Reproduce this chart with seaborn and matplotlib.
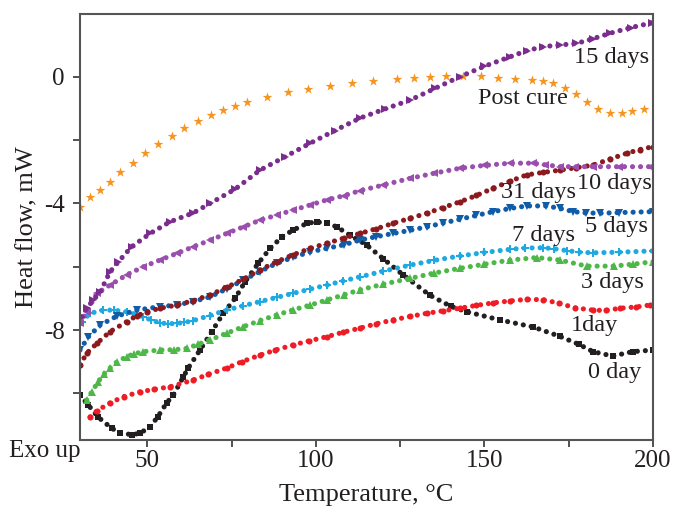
import numpy as np
import pandas as pd
import matplotlib
matplotlib.use("Agg")
import matplotlib.pyplot as plt
import seaborn as sns

# ---- data ----
x_0day = [30, 32.5, 35.4, 39.4, 42, 45.3, 47.8, 50.8, 53, 55.7, 57.7, 60.7, 62.1, 65.6, 69.1, 72.5, 76, 79,
          82.9, 86.4, 90, 93.3, 97.3, 100.2, 103.2, 106.2, 110, 115, 120, 125.9, 133.8, 140, 144.7, 154.6,
          164.4, 172.4, 178, 182.2, 188, 194, 200]
y_0day = [-10.05, -10.37, -10.75, -11.1, -11.25, -11.3, -11.26, -11.05, -10.75, -10.3, -10.05, -9.47, -9.2,
          -8.63, -8.05, -7.47, -7.0, -6.47, -5.89, -5.42, -5.05, -4.84, -4.63, -4.58, -4.63, -4.74, -5.0,
          -5.31, -5.75, -6.26, -6.9, -7.25, -7.42, -7.68, -7.9, -8.2, -8.45, -8.68, -8.82, -8.68, -8.63]

x_1day = [33, 35, 38.9, 43, 47.8, 52, 56.7, 63.5, 68, 73.5, 78, 83.4, 88, 93.2, 98, 103.2, 108, 113, 117.9,
          122.9, 127.9, 132.9, 137.8, 142.7, 147.6, 152.6, 157.5, 162.5, 167.4, 172, 177, 182.3, 186, 190.2,
          195, 199]
y_1day = [-10.74, -10.55, -10.3, -10.1, -9.95, -9.87, -9.79, -9.58, -9.4, -9.2, -9.0, -8.79, -8.63, -8.47,
          -8.34, -8.21, -8.07, -7.94, -7.8, -7.68, -7.57, -7.47, -7.39, -7.31, -7.22, -7.14, -7.08, -7.03,
          -7.04, -7.15, -7.3, -7.37, -7.38, -7.31, -7.27, -7.21]

x_3days = [32, 33.5, 35.4, 37, 38.9, 41, 43.8, 46, 48.8, 53.7, 58, 61.7, 65, 68.6, 73.5, 78.5, 83.4, 88.4,
           93.3, 98.3, 103.2, 108.2, 113, 120, 127.9, 135, 142.7, 150, 157.6, 165.5, 172.4, 180.3, 188.3,
           194, 200]
y_3days = [-10.21, -9.95, -9.63, -9.4, -9.2, -9.0, -8.84, -8.75, -8.68, -8.63, -8.62, -8.58, -8.45, -8.31,
           -8.1, -7.89, -7.7, -7.52, -7.36, -7.21, -7.05, -6.89, -6.73, -6.55, -6.37, -6.2, -6.05, -5.92,
           -5.79, -5.71, -5.79, -5.98, -5.98, -5.92, -5.84]

x_7days = [30.5, 33, 36.9, 40, 43.8, 46.5, 48.8, 51, 53.7, 56, 58.7, 61, 63.6, 68.5, 73.5, 78.5, 83.4, 88.3,
           93.2, 98.2, 103.2, 108, 113, 120, 127.9, 135, 142.7, 150, 157.6, 162, 167.4, 170.5, 174.4, 178,
           182.3, 190, 200]
y_7days = [-7.74, -7.47, -7.37, -7.37, -7.42, -7.5, -7.58, -7.68, -7.77, -7.8, -7.79, -7.76, -7.7, -7.54,
           -7.37, -7.23, -7.1, -6.97, -6.84, -6.71, -6.58, -6.45, -6.32, -6.14, -5.95, -5.8, -5.66, -5.55,
           -5.45, -5.41, -5.4, -5.43, -5.49, -5.54, -5.56, -5.54, -5.5]

x_5days = [30, 32.5, 36, 40.9, 46.8, 53.7, 58.7, 63.6, 68.6, 73.5, 78.5, 83.4, 88.4, 93.3, 98.3, 103.2,
           108.2, 113, 117.9, 122.9, 127.9, 132.9, 137.8, 142.7, 147.6, 152.6, 157.6, 162.5, 168.4, 172.5,
           176.4, 180, 184.3, 190, 200]
y_5days = [-8.63, -8.21, -7.84, -7.56, -7.37, -7.26, -7.21, -7.1, -6.95, -6.7, -6.42, -6.15, -5.89, -5.7,
           -5.53, -5.42, -5.31, -5.16, -5.05, -4.95, -4.85, -4.74, -4.62, -4.5, -4.38, -4.26, -4.16, -4.08,
           -4.08, -4.16, -4.26, -4.3, -4.31, -4.29, -4.26]

x_31days = [30, 32, 35, 38.9, 43.8, 46.8, 50, 53.7, 58.7, 63.6, 68.6, 73.5, 78.5, 83.4, 88.4, 93.3, 98.3,
            103.2, 108.2, 113, 117.9, 122.9, 127.9, 132.9, 137.8, 142.7, 147.6, 152.6, 157.6, 162.5, 167.5,
            172.4, 177.3, 182.3, 187.2, 192.2, 196, 200]
y_31days = [-9.1, -8.73, -8.42, -8.05, -7.74, -7.55, -7.42, -7.31, -7.21, -7.07, -6.89, -6.65, -6.39, -6.1,
            -5.84, -5.62, -5.42, -5.26, -5.1, -4.95, -4.8, -4.63, -4.47, -4.31, -4.13, -3.95, -3.75, -3.52,
            -3.3, -3.1, -3.02, -2.95, -2.87, -2.79, -2.6, -2.42, -2.3, -2.21]

x_10days = [30, 32, 35, 38.9, 43.8, 48.8, 53.7, 58.7, 63.6, 68.6, 73.5, 78.5, 83.4, 88.4, 93.3, 98.3, 103.2,
            108.2, 113, 120, 127.9, 135, 142.7, 150, 157.6, 164.5, 168, 172.4, 177, 182.3, 190, 199]
y_10days = [-7.78, -7.42, -6.84, -6.58, -6.26, -6.0, -5.79, -5.58, -5.37, -5.16, -4.95, -4.74, -4.53, -4.37,
            -4.21, -4.05, -3.89, -3.76, -3.6, -3.42, -3.21, -3.05, -2.89, -2.8, -2.73, -2.73, -2.78, -2.84,
            -2.84, -2.84, -2.84, -2.84]

x_15days = [30.5, 32, 34, 36, 38.9, 41.4, 45.3, 50.8, 56.7, 63.6, 68.6, 76, 83.4, 90.8, 98.3, 105.6, 113,
            120.4, 127.9, 135.3, 142.7, 150, 157.6, 162.5, 167.4, 172.4, 177.3, 182.2, 187.2, 193.4, 199.6]
y_15days = [-7.58, -7.3, -7.05, -6.79, -6.16, -5.84, -5.37, -4.95, -4.58, -4.3, -4.0, -3.55, -2.95, -2.53,
            -2.1, -1.7, -1.31, -1.02, -0.74, -0.37, 0.0, 0.33, 0.63, 0.82, 0.95, 1.0, 1.05, 1.2, 1.37, 1.55, 1.7]

x_post = [30, 33, 35.9, 38.9, 41.9, 45.8, 49.3, 53, 57.2, 61, 65.1, 68.8, 72.5, 76, 79.5, 85.4, 91.8, 97.7,
          104.2, 110.6, 117, 124, 129, 133.8, 138.7, 143.7, 149, 154.1, 159, 164, 167.3, 170.4, 173.8,
          177.3, 180.3, 183.8, 187.3, 190.7, 193.7, 197.2]
y_post = [-4.1, -3.79, -3.58, -3.32, -3.0, -2.73, -2.42, -2.13, -1.86, -1.62, -1.4, -1.22, -1.05, -0.92,
          -0.79, -0.63, -0.49, -0.39, -0.29, -0.21, -0.13, -0.07, -0.03, 0.0, 0.02, 0.03, 0.02, -0.03, -0.06,
          -0.1, -0.15, -0.21, -0.35, -0.55, -0.79, -1.02, -1.14, -1.13, -1.08, -1.02]

labels = ["0 day", "1day", "3 days", "7 days", "5 days", "31 days", "10 days", "15 days", "Post cure"]
label_x = [188.7, 182.5, 187.9, 167.4, 189.3, 165.9, 188.7, 187.8, 161.5]
label_y = [-9.33, -7.84, -6.49, -5.0, -4.72, -3.65, -3.36, 0.62, -0.70]

x_ticks = [50, 100, 150, 200]
y_ticks = [0, -4, -8]

# ---- styling ----
sns.set_theme(style="ticks")
plt.rcParams['font.family'] = ['Liberation Serif', 'DejaVu Serif']

series = [
    (x_0day, y_0day, "#231f20", "s", 4.0),
    (x_1day, y_1day, "#ee1c25", "o", 4.4),
    (x_3days, y_3days, "#4db848", "^", 5.4),
    (x_7days, y_7days, "#1fa9e1", "P", 5.2),
    (x_5days, y_5days, "#0f5ca8", "v", 5.4),
    (x_31days, y_31days, "#8b1a1f", "o", 4.4),
    (x_10days, y_10days, "#9a4fae", "<", 5.4),
    (x_15days, y_15days, "#7b2d8e", ">", 5.4),
]

fig = plt.figure(figsize=(6.75, 5.09), dpi=100)
ax = fig.add_axes([80 / 675, 1 - 440 / 509, (653 - 80) / 675, (440 - 14) / 509])

for xs, ys, col, mk, ms in series:
    df = pd.DataFrame({"x": xs, "y": ys})
    sns.lineplot(data=df, x="x", y="y", ax=ax, color=col, estimator=None, sort=False,
                 linewidth=3.7, linestyle=(0, (0.01, 1.55)), dash_capstyle="round",
                 marker=mk, markersize=ms, markeredgewidth=0, legend=False)

df_post = pd.DataFrame({"x": x_post, "y": y_post})
sns.scatterplot(data=df_post, x="x", y="y", ax=ax, color="#f7941e", marker="*", s=55,
                linewidth=0, legend=False)

for t, lx, ly in zip(labels, label_x, label_y):
    ax.text(lx, ly, t, fontsize=17.5, ha="center", va="center", color="#231f20")

ax.set_xlim(30, 200)
ax.set_ylim(-11.47, 1.98)
ax.set_xticks(x_ticks)
ax.set_yticks(y_ticks)
ax.set_xticks([75, 125, 175], minor=True)
ax.set_yticks([-2, -6, -10], minor=True)
ax.set_xticklabels([str(v) for v in x_ticks])
ax.set_yticklabels([str(v) for v in y_ticks])
ax.tick_params(axis="both", which="both", direction="out", color="#333333", width=1.2,
               labelsize=18, labelcolor="#231f20")
ax.tick_params(axis="x", which="both", length=5, pad=2)
ax.tick_params(axis="y", which="both", length=5, pad=6)
for sp in ax.spines.values():
    sp.set_visible(True)
    sp.set_color("#555555")
    sp.set_linewidth(1.5)

ax.set_xlabel("Temperature, °C", fontsize=19, color="#231f20", labelpad=9)
ax.set_ylabel("Heat flow, mW", fontsize=19, color="#231f20", labelpad=4)
fig.text(45 / 675, 1 - 451 / 509, "Exo up", fontsize=18, ha="center", va="center", color="#231f20")

fig.savefig("out.png", dpi=100)
